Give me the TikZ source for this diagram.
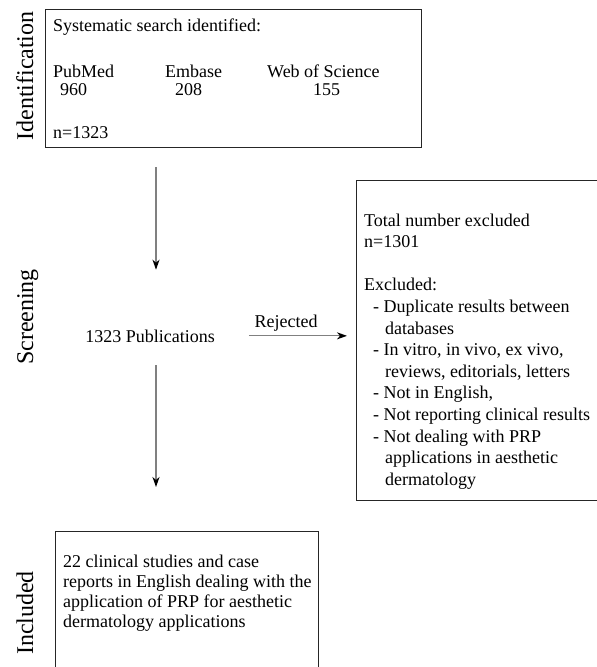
\documentclass[tikz,border=0pt]{standalone}
\usepackage{fontspec}
\setmainfont{Liberation Serif}
\usetikzlibrary{arrows.meta,positioning}

\begin{document}
\begin{tikzpicture}[x=1pt, y=-1pt, every node/.style={font=\fontsize{18}{21.6}\selectfont, inner sep=0}]
    \tikzstyle{box} = [draw=black!85, line width=1.2pt, anchor=north west]
    \tikzstyle{phase} = [rotate=90, anchor=base, font=\fontsize{24}{28}\selectfont]
    \tikzstyle{txt} = [anchor=base west]
    \tikzstyle{arr} = [draw=black!50, line width=1.3pt, -{Stealth[length=10pt, width=7pt, inset=3pt, color=black]}]

    \useasboundingbox (0,0) rectangle (597,667);

    % Phases
    \node[phase] (identification) at (33,76) {Identification};
    \node[phase] (screening) at (33,317) {Screening};
    \node[phase] (included) at (33,613) {Included};

    % Identification
    \node[box, minimum width=376pt, minimum height=138pt] (search) at (45,9) {};
    \node[txt] (title) at (53,31) {Systematic search identified:};
    \node[txt] (pubmed) at (53,77) {PubMed};
    \node[txt] (embase) at (165,77) {Embase};
    \node[txt] (wos) at (267,77) {Web of Science};
    \node[txt] (npubmed) at (60,95) {960};
    \node[txt] (nembase) at (175,95) {208};
    \node[txt] (nwos) at (313,95) {155};
    \node[txt] (total) at (53,138) {n=1323};

    % Screening
    \node[anchor=base] (pubs) at (150,342) {1323 Publications};
    \node[box, minimum width=300pt, minimum height=320pt] (excl) at (356,180) {};
    \node[anchor=north west, align=left] (exlist) at (364,213.5) {Total number excluded\\
        n=1301\\[21.6pt]
        Excluded:\\
        \hspace*{9pt}- Duplicate results between\\
        \hspace*{21pt}databases\\
        \hspace*{9pt}- In vitro, in vivo, ex vivo,\\
        \hspace*{21pt}reviews, editorials, letters\\
        \hspace*{9pt}- Not in English,\\
        \hspace*{9pt}- Not reporting clinical results\\
        \hspace*{9pt}- Not dealing with PRP\\
        \hspace*{21pt}applications in aesthetic\\
        \hspace*{21pt}dermatology};
    \node[anchor=base] (rej) at (286,327) {Rejected};

    % Included
    \node[box, minimum width=263pt, minimum height=170pt] (incl) at (55,531) {};
    \node[anchor=north west, align=left, font=\fontsize{18}{20}\selectfont] (incltext) at (63,554.7) {22 clinical studies and case\\
        reports in English dealing with the\\
        application of PRP for aesthetic\\
        dermatology applications};

    % Arrows
    \draw[arr, shorten <=19pt, shorten >=59.6pt] ([xshift=6pt]pubs.north |- search.south) -- ([xshift=6pt]pubs.north);
    \draw[arr, shorten <=23pt, shorten >=44pt] ([xshift=6pt]pubs.south) -- ([xshift=6pt]pubs.south |- incl.north);
    \draw[arr, shorten <=34pt, shorten >=9pt] (pubs.east) -- (pubs.east -| excl.west);
\end{tikzpicture}
\end{document}
